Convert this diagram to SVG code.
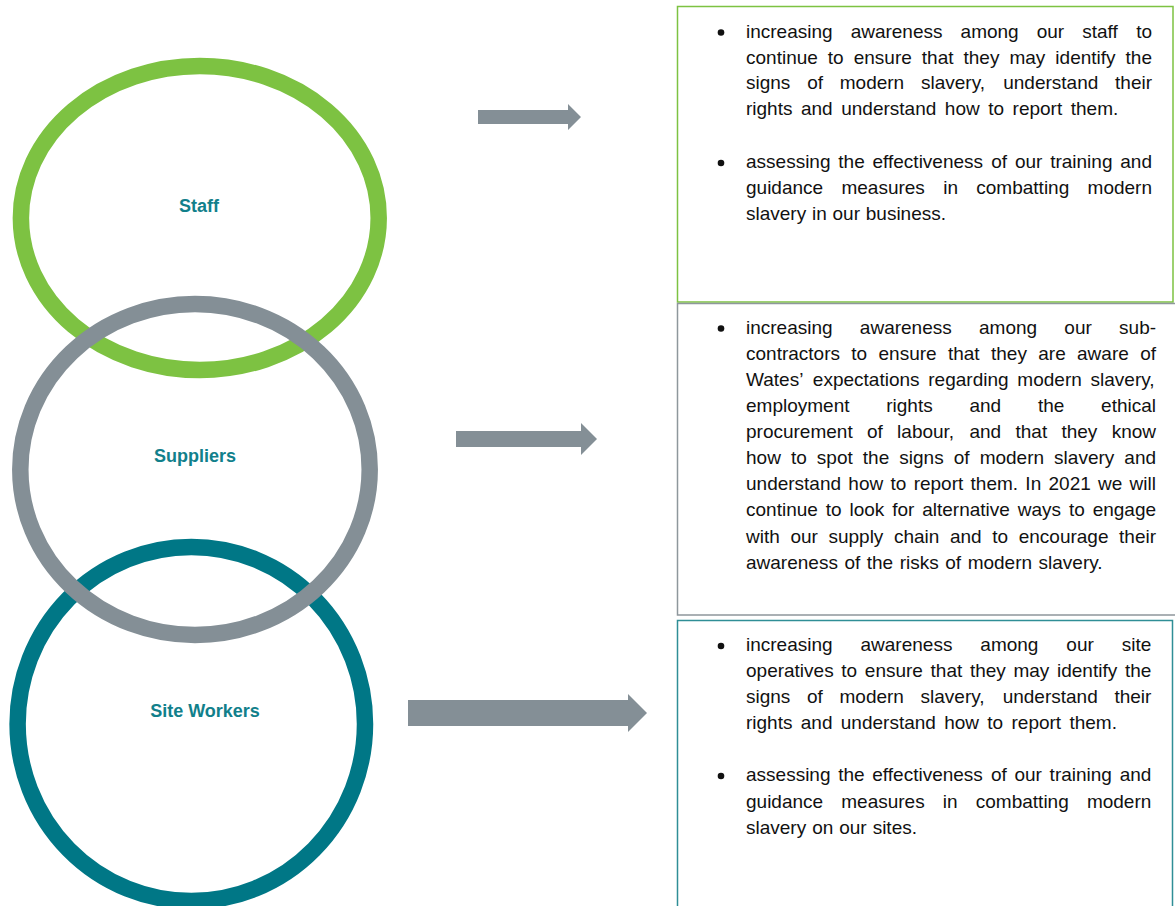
<svg xmlns="http://www.w3.org/2000/svg" width="1175" height="906" viewBox="0 0 1175 906">
<style>
.ring{fill:none;stroke-width:16.5}
.lbl{font-family:"Liberation Sans",Arial,sans-serif;font-size:18px;font-weight:bold;fill:#11808b;text-anchor:middle}
.t{font-family:"Liberation Sans",Arial,sans-serif;font-size:19px;fill:#111}
.arrow{fill:#848f96}
.dot{fill:#111}
</style>
<rect width="1175" height="906" fill="#fff"/>
<g id="connectors">
<polygon class="arrow" points="478,110 568,110 568,104 581,117 568,130 568,124 478,124"/>
<polygon class="arrow" points="456,431 581,431 581,423 597,439 581,455 581,447 456,447"/>
<polygon class="arrow" points="408,700 628,700 628,694 647,713 628,732 628,726 408,726"/>
</g>
<g id="node-site-workers">
<ellipse class="ring" cx="191.3" cy="724" rx="173.7" ry="177" stroke="#007786"/>
<text class="lbl" x="205" y="717">Site Workers</text>
</g>
<g id="node-staff">
<ellipse class="ring" cx="199.8" cy="218" rx="178.9" ry="152" stroke="#7dc242"/>
<text class="lbl" x="199" y="212">Staff</text>
</g>
<g id="node-suppliers">
<ellipse class="ring" cx="195" cy="469.5" rx="174.7" ry="165.5" stroke="#848f96"/>
<text class="lbl" x="195" y="462">Suppliers</text>
</g>
<g id="box-staff">
<rect x="677.5" y="6.5" width="495.5" height="295.5" fill="none" stroke="#7dc242" stroke-width="1.5"/>
<circle class="dot" cx="721" cy="32.5" r="3.3"/>
<circle class="dot" cx="721" cy="163" r="3.3"/>
<text class="t" y="38"><tspan x="746">increasing</tspan> <tspan x="850.64">awareness</tspan> <tspan x="960.57">among</tspan> <tspan x="1036.71">our</tspan> <tspan x="1082.23">staff</tspan> <tspan x="1136.2">to</tspan></text>
<text class="t" y="64"><tspan x="746">continue</tspan> <tspan x="827.84">to</tspan> <tspan x="853.71">ensure</tspan> <tspan x="921.81">that</tspan> <tspan x="963.52">they</tspan> <tspan x="1009.45">may</tspan> <tspan x="1055.36">identify</tspan> <tspan x="1125.57">the</tspan></text>
<text class="t" y="89"><tspan x="746">signs</tspan> <tspan x="807.14">of</tspan> <tspan x="839.78">modern</tspan> <tspan x="920.98">slavery,</tspan> <tspan x="1003.23">understand</tspan> <tspan x="1115.08">their</tspan></text>
<text class="t" y="115"><tspan x="746">rights</tspan> <tspan x="800.99">and</tspan> <tspan x="841.22">understand</tspan> <tspan x="944.82">how</tspan> <tspan x="988.21">to</tspan> <tspan x="1012.6">report</tspan> <tspan x="1070.77">them.</tspan></text>
<text class="t" y="168"><tspan x="746">assessing</tspan> <tspan x="838.29">the</tspan> <tspan x="872.52">effectiveness</tspan> <tspan x="991.22">of</tspan> <tspan x="1014.89">our</tspan> <tspan x="1050.17">training</tspan> <tspan x="1120.29">and</tspan></text>
<text class="t" y="194"><tspan x="746">guidance</tspan> <tspan x="841.44">measures</tspan> <tspan x="943.19">in</tspan> <tspan x="976.31">combatting</tspan> <tspan x="1087.58">modern</tspan></text>
<text class="t" y="220"><tspan x="746">slavery</tspan> <tspan x="811.95">in</tspan> <tspan x="832.51">our</tspan> <tspan x="865.75">business.</tspan></text>
</g>
<g id="box-suppliers">
<path d="M1176,303.5 H677.5 V615 H1176" fill="none" stroke="#8e979c" stroke-width="1.5"/>
<circle class="dot" cx="721" cy="328.5" r="3.3"/>
<text class="t" y="334"><tspan x="746">increasing</tspan> <tspan x="859.85">awareness</tspan> <tspan x="978.99">among</tspan> <tspan x="1064.34">our</tspan> <tspan x="1119.07">sub-</tspan></text>
<text class="t" y="360"><tspan x="746">contractors</tspan> <tspan x="851.32">to</tspan> <tspan x="878.52">ensure</tspan> <tspan x="947.95">that</tspan> <tspan x="990.99">they</tspan> <tspan x="1038.25">are</tspan> <tspan x="1077.06">aware</tspan> <tspan x="1140.15">of</tspan></text>
<text class="t" y="386"><tspan x="746">Wates’</tspan> <tspan x="812.85">expectations</tspan> <tspan x="928.31">regarding</tspan> <tspan x="1017.36">modern</tspan> <tspan x="1090.56">slavery,</tspan></text>
<text class="t" y="412"><tspan x="746">employment</tspan> <tspan x="886.24">rights</tspan> <tspan x="969.47">and</tspan> <tspan x="1037.93">the</tspan> <tspan x="1101.11">ethical</tspan></text>
<text class="t" y="438"><tspan x="746">procurement</tspan> <tspan x="866.95">of</tspan> <tspan x="897.1">labour,</tspan> <tspan x="969.48">and</tspan> <tspan x="1015.47">that</tspan> <tspan x="1061.46">they</tspan> <tspan x="1111.67">know</tspan></text>
<text class="t" y="464"><tspan x="746">how</tspan> <tspan x="790.92">to</tspan> <tspan x="816.84">spot</tspan> <tspan x="862.82">the</tspan> <tspan x="899.3">signs</tspan> <tspan x="953.72">of</tspan> <tspan x="979.64">modern</tspan> <tspan x="1054.12">slavery</tspan> <tspan x="1124.36">and</tspan></text>
<text class="t" y="490"><tspan x="746">understand</tspan> <tspan x="848.35">how</tspan> <tspan x="890.49">to</tspan> <tspan x="913.63">report</tspan> <tspan x="970.55">them.</tspan> <tspan x="1025.36">In</tspan> <tspan x="1048.5">2021</tspan> <tspan x="1098.05">we</tspan> <tspan x="1129.62">will</tspan></text>
<text class="t" y="516"><tspan x="746">continue</tspan> <tspan x="825.7">to</tspan> <tspan x="849.43">look</tspan> <tspan x="892.16">for</tspan> <tspan x="922.21">alternative</tspan> <tspan x="1017.74">ways</tspan> <tspan x="1068.9">to</tspan> <tspan x="1092.63">engage</tspan></text>
<text class="t" y="543"><tspan x="746">with</tspan> <tspan x="790.38">our</tspan> <tspan x="828.44">supply</tspan> <tspan x="893.95">chain</tspan> <tspan x="949.96">and</tspan> <tspan x="992.25">to</tspan> <tspan x="1018.7">encourage</tspan> <tspan x="1119.08">their</tspan></text>
<text class="t" y="569"><tspan x="746">awareness</tspan> <tspan x="844.39">of</tspan> <tspan x="866.76">the</tspan> <tspan x="899.69">risks</tspan> <tspan x="945.26">of</tspan> <tspan x="967.63">modern</tspan> <tspan x="1038.56">slavery.</tspan></text>
</g>
<g id="box-site-workers">
<path d="M1172.5,907 V620.5 H677.5 V907" fill="none" stroke="#2f8e96" stroke-width="1.5"/>
<circle class="dot" cx="721" cy="646" r="3.3"/>
<circle class="dot" cx="721" cy="776" r="3.3"/>
<text class="t" y="651"><tspan x="746">increasing</tspan> <tspan x="860.52">awareness</tspan> <tspan x="980.33">among</tspan> <tspan x="1066.35">our</tspan> <tspan x="1121.75">site</tspan></text>
<text class="t" y="677"><tspan x="746">operatives</tspan> <tspan x="841.31">to</tspan> <tspan x="864.82">ensure</tspan> <tspan x="930.56">that</tspan> <tspan x="969.91">they</tspan> <tspan x="1013.48">may</tspan> <tspan x="1057.03">identify</tspan> <tspan x="1124.88">the</tspan></text>
<text class="t" y="703"><tspan x="746">signs</tspan> <tspan x="807">of</tspan> <tspan x="839.5">modern</tspan> <tspan x="920.56">slavery,</tspan> <tspan x="1002.67">understand</tspan> <tspan x="1114.38">their</tspan></text>
<text class="t" y="729"><tspan x="746">rights</tspan> <tspan x="800.78">and</tspan> <tspan x="840.79">understand</tspan> <tspan x="944.17">how</tspan> <tspan x="987.34">to</tspan> <tspan x="1011.51">report</tspan> <tspan x="1069.46">them.</tspan></text>
<text class="t" y="781"><tspan x="746">assessing</tspan> <tspan x="838.18">the</tspan> <tspan x="872.3">effectiveness</tspan> <tspan x="990.89">of</tspan> <tspan x="1014.45">our</tspan> <tspan x="1049.62">training</tspan> <tspan x="1119.63">and</tspan></text>
<text class="t" y="808"><tspan x="746">guidance</tspan> <tspan x="841.27">measures</tspan> <tspan x="942.85">in</tspan> <tspan x="975.8">combatting</tspan> <tspan x="1086.9">modern</tspan></text>
<text class="t" y="834"><tspan x="746">slavery</tspan> <tspan x="812.13">on</tspan> <tspan x="839.22">our</tspan> <tspan x="872.64">sites.</tspan></text>
</g>
</svg>
